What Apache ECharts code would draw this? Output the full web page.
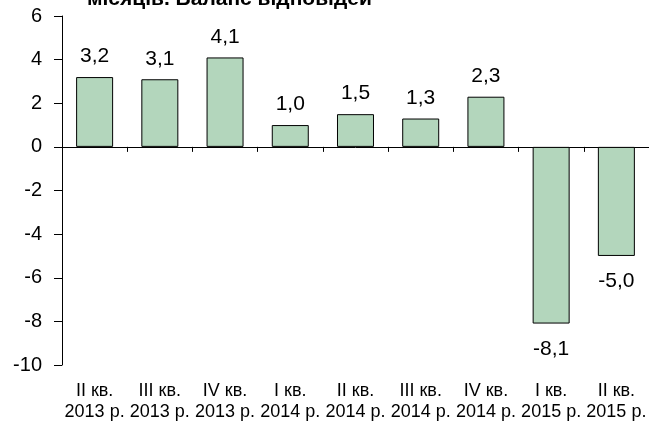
<!DOCTYPE html>
<html>
<head>
<meta charset="utf-8">
<script src="https://cdn.jsdelivr.net/npm/echarts@6/dist/echarts.min.js"></script>
<style>
html,body{margin:0;padding:0;background:#fff;}
#chart{width:649px;height:423px;}
</style>
</head>
<body>
<div id="chart"></div>
<script>
const titleText = 'місяців. Баланс відповідей';
const categories = ['II кв.\n2013 р.', 'III кв.\n2013 р.', 'IV кв.\n2013 р.', 'I кв.\n2014 р.', 'II кв.\n2014 р.', 'III кв.\n2014 р.', 'IV кв.\n2014 р.', 'I кв.\n2015 р.', 'II кв.\n2015 р.'];
const values = [3.2, 3.1, 4.1, 1.0, 1.5, 1.3, 2.3, -8.1, -5.0];
const yMin = -10, yMax = 6, yStep = 2;

const FONT = "'Liberation Sans', Arial, sans-serif";
const chart = echarts.init(document.getElementById('chart'));

const barData = values.map(v => ({
  value: v,
  label: {
    position: v >= 0 ? 'top' : 'bottom',
    distance: v >= 0 ? 10 : 15
  }
}));

chart.setOption({
  animation: false,
  backgroundColor: '#ffffff',
  graphic: [{
    type: 'text',
    left: 87,
    top: -11,
    style: {
      text: titleText,
      font: 'bold 21px ' + FONT,
      fill: '#000'
    }
  }],
  grid: { left: 62, top: 16, bottom: 55, right: -7, containLabel: false },
  xAxis: [{
    type: 'category',
    data: categories,
    axisLine: { onZero: true, lineStyle: { color: '#000', width: 1 } },
    axisTick: { show: true, length: 5, inside: false, lineStyle: { color: '#000' } },
    axisLabel: { show: false }
  }, {
    type: 'category',
    data: categories,
    position: 'bottom',
    axisLine: { show: false },
    axisTick: { show: false },
    axisLabel: {
      show: true, interval: 0, margin: 16,
      fontFamily: FONT, fontSize: 18, lineHeight: 21, color: '#000'
    }
  }],
  yAxis: {
    type: 'value',
    min: yMin, max: yMax, interval: yStep,
    axisLine: { show: true, lineStyle: { color: '#000', width: 1 } },
    axisTick: { show: true, length: 8, lineStyle: { color: '#000' } },
    splitLine: { show: false },
    axisLabel: { margin: 20, fontFamily: FONT, fontSize: 20, color: '#000' }
  },
  series: [{
    type: 'bar',
    xAxisIndex: 0,
    data: barData,
    barWidth: 37,
    itemStyle: { color: '#b3d6bc', borderColor: '#000', borderWidth: 1 },
    label: {
      show: true,
      fontFamily: FONT, fontSize: 21, color: '#000',
      formatter: p => p.value.toFixed(1).replace('.', ',')
    }
  }]
});
</script>
</body>
</html>
